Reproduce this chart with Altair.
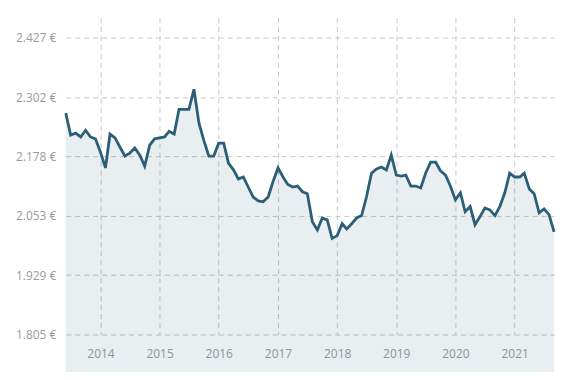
import altair as alt
import pandas as pd

# Monthly price values, June 2013 .. September 2021
prices = [
    2.269, 2.223, 2.227, 2.219, 2.233, 2.219, 2.215, 2.187, 2.154, 2.225,
    2.217, 2.198, 2.179, 2.185, 2.196, 2.181, 2.158, 2.202, 2.215, 2.217,
    2.219, 2.231, 2.225, 2.277, 2.277, 2.277, 2.319, 2.248, 2.212, 2.179,
    2.179, 2.206, 2.206, 2.164, 2.150, 2.131, 2.135, 2.114, 2.093, 2.085,
    2.083, 2.093, 2.125, 2.154, 2.135, 2.120, 2.114, 2.116, 2.104, 2.100,
    2.041, 2.024, 2.049, 2.045, 2.006, 2.012, 2.037, 2.026, 2.037, 2.049,
    2.054, 2.093, 2.143, 2.152, 2.156, 2.150, 2.181, 2.139, 2.137, 2.139,
    2.116, 2.116, 2.112, 2.143, 2.166, 2.166, 2.148, 2.139, 2.116, 2.087,
    2.102, 2.062, 2.073, 2.035, 2.052, 2.070, 2.066, 2.054, 2.073, 2.102,
    2.143, 2.135, 2.135, 2.143, 2.110, 2.100, 2.060, 2.068, 2.056, 2.020,
]
dates = pd.date_range("2013-06-01", periods=len(prices), freq="MS").strftime("%Y-%m-%d").tolist()

y_ticks = [1.8046, 1.929, 2.0534, 2.1778, 2.3022, 2.4266]
years = [2014, 2015, 2016, 2017, 2018, 2019, 2020, 2021]

df = pd.DataFrame({"date": dates, "price": prices})

LINE = "#2b5f78"
GRID = "#c8c8c8"
LABEL = "#9a9a9a"
FONT = "Open Sans"

x_enc = alt.X(
    "date:T",
    scale=alt.Scale(
        type="utc",
        domain=[alt.DateTime(year=2013, month=6, date=1, utc=True),
                alt.DateTime(year=2021, month=9, date=1, utc=True)],
    ),
    axis=alt.Axis(
        values=[alt.DateTime(year=y, month=1, date=1, utc=True) for y in years],
        format="%Y", formatType="utc", title=None,
        grid=True, gridDash=[5, 4], gridColor=GRID, gridWidth=1,
        ticks=False, domain=False, labelPadding=14,
        labelFont=FONT, labelFontSize=12, labelColor=LABEL,
    ),
)
y_enc = alt.Y(
    "price:Q",
    scale=alt.Scale(domain=[1.8046, 2.4694], nice=False, zero=False),
    axis=alt.Axis(
        values=y_ticks, title=None,
        labelExpr="format(datum.value, '.3f') + ' €'",
        grid=True, gridDash=[5, 4], gridColor=GRID, gridWidth=1,
        ticks=False, domain=False, labelPadding=10,
        labelFont=FONT, labelFontSize=12, labelColor=LABEL,
    ),
)

base = alt.Chart(df).encode(x=x_enc, y=y_enc)
area = base.mark_area(color=LINE, opacity=0.1)
line = base.mark_line(color=LINE, strokeWidth=2.8, strokeJoin="miter")

chart = (
    alt.layer(area, line)
    .properties(
        width=490, height=318,
        background="white",
        autosize=alt.AutoSizeParams(type="none"),
        padding={"left": 58, "top": 9, "right": 18, "bottom": 37},
    )
    .configure_view(stroke="transparent", strokeWidth=0)
)

chart.save("out.html", embed_options={"renderer": "svg", "actions": False})
